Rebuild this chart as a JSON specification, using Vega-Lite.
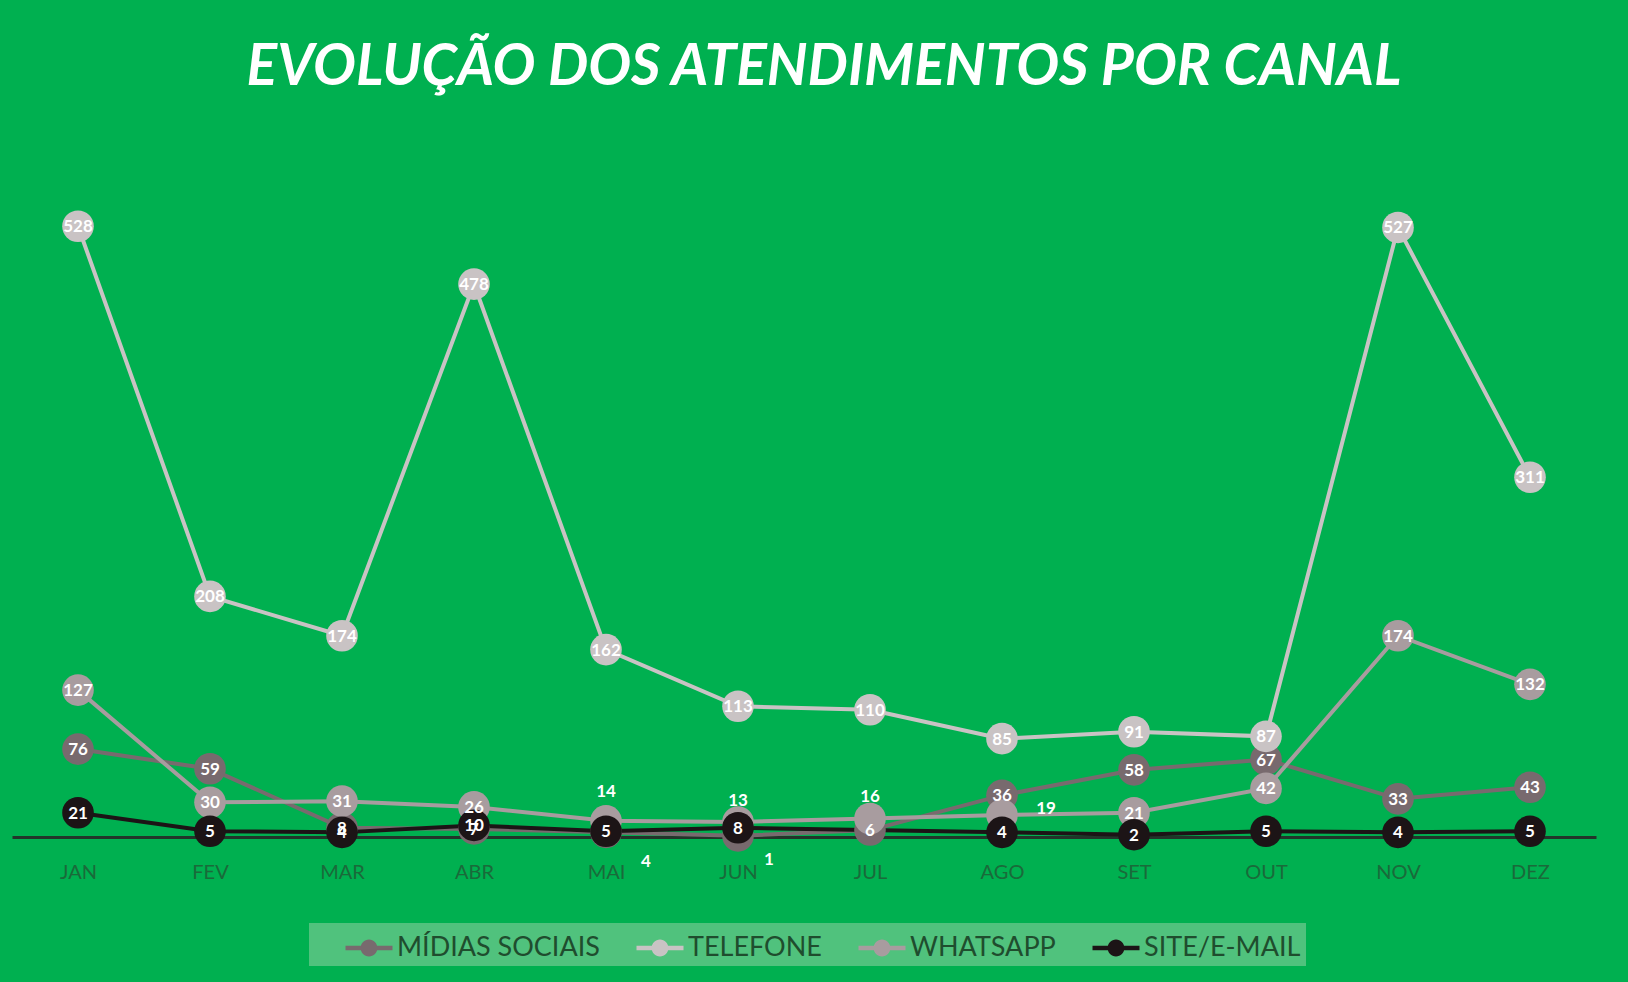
{
  "$schema": "https://vega.github.io/schema/vega-lite/v6.json",
  "width": 1584,
  "height": 694,
  "autosize": "none",
  "padding": {"left": 12, "top": 143, "right": 32, "bottom": 145},
  "background": "#00b050",
  "title": {
    "text": "EVOLUÇÃO DOS ATENDIMENTOS POR CANAL",
    "font": "Lato",
    "fontSize": 57,
    "fontWeight": "bold",
    "fontStyle": "italic",
    "color": "#ffffff",
    "anchor": "middle",
    "frame": "group",
    "offset": 46,
    "dx": 20
  },
  "config": {
    "view": {"stroke": null},
    "font": "Lato"
  },
  "data": {
    "values": [
      {"mes": "JAN", "canal": "MÍDIAS SOCIAIS", "valor": 76},
      {"mes": "FEV", "canal": "MÍDIAS SOCIAIS", "valor": 59},
      {"mes": "MAR", "canal": "MÍDIAS SOCIAIS", "valor": 8},
      {"mes": "ABR", "canal": "MÍDIAS SOCIAIS", "valor": 7},
      {"mes": "MAI", "canal": "MÍDIAS SOCIAIS", "valor": 4},
      {"mes": "JUN", "canal": "MÍDIAS SOCIAIS", "valor": 1},
      {"mes": "JUL", "canal": "MÍDIAS SOCIAIS", "valor": 6},
      {"mes": "AGO", "canal": "MÍDIAS SOCIAIS", "valor": 36},
      {"mes": "SET", "canal": "MÍDIAS SOCIAIS", "valor": 58},
      {"mes": "OUT", "canal": "MÍDIAS SOCIAIS", "valor": 67},
      {"mes": "NOV", "canal": "MÍDIAS SOCIAIS", "valor": 33},
      {"mes": "DEZ", "canal": "MÍDIAS SOCIAIS", "valor": 43},
      {"mes": "JAN", "canal": "TELEFONE", "valor": 528},
      {"mes": "FEV", "canal": "TELEFONE", "valor": 208},
      {"mes": "MAR", "canal": "TELEFONE", "valor": 174},
      {"mes": "ABR", "canal": "TELEFONE", "valor": 478},
      {"mes": "MAI", "canal": "TELEFONE", "valor": 162},
      {"mes": "JUN", "canal": "TELEFONE", "valor": 113},
      {"mes": "JUL", "canal": "TELEFONE", "valor": 110},
      {"mes": "AGO", "canal": "TELEFONE", "valor": 85},
      {"mes": "SET", "canal": "TELEFONE", "valor": 91},
      {"mes": "OUT", "canal": "TELEFONE", "valor": 87},
      {"mes": "NOV", "canal": "TELEFONE", "valor": 527},
      {"mes": "DEZ", "canal": "TELEFONE", "valor": 311},
      {"mes": "JAN", "canal": "WHATSAPP", "valor": 127},
      {"mes": "FEV", "canal": "WHATSAPP", "valor": 30},
      {"mes": "MAR", "canal": "WHATSAPP", "valor": 31},
      {"mes": "ABR", "canal": "WHATSAPP", "valor": 26},
      {"mes": "MAI", "canal": "WHATSAPP", "valor": 14},
      {"mes": "JUN", "canal": "WHATSAPP", "valor": 13},
      {"mes": "JUL", "canal": "WHATSAPP", "valor": 16},
      {"mes": "AGO", "canal": "WHATSAPP", "valor": 19},
      {"mes": "SET", "canal": "WHATSAPP", "valor": 21},
      {"mes": "OUT", "canal": "WHATSAPP", "valor": 42},
      {"mes": "NOV", "canal": "WHATSAPP", "valor": 174},
      {"mes": "DEZ", "canal": "WHATSAPP", "valor": 132},
      {"mes": "JAN", "canal": "SITE/E-MAIL", "valor": 21},
      {"mes": "FEV", "canal": "SITE/E-MAIL", "valor": 5},
      {"mes": "MAR", "canal": "SITE/E-MAIL", "valor": 4},
      {"mes": "ABR", "canal": "SITE/E-MAIL", "valor": 10},
      {"mes": "MAI", "canal": "SITE/E-MAIL", "valor": 5},
      {"mes": "JUN", "canal": "SITE/E-MAIL", "valor": 8},
      {"mes": "AGO", "canal": "SITE/E-MAIL", "valor": 4},
      {"mes": "SET", "canal": "SITE/E-MAIL", "valor": 2},
      {"mes": "OUT", "canal": "SITE/E-MAIL", "valor": 5},
      {"mes": "NOV", "canal": "SITE/E-MAIL", "valor": 4},
      {"mes": "DEZ", "canal": "SITE/E-MAIL", "valor": 5}
    ]
  },
  "encoding": {
    "x": {
      "field": "mes",
      "type": "ordinal",
      "sort": ["JAN", "FEV", "MAR", "ABR", "MAI", "JUN", "JUL", "AGO", "SET", "OUT", "NOV", "DEZ"],
      "scale": {"type": "point", "padding": 0.5},
      "axis": {
        "title": null,
        "labelAngle": 0,
        "labelFont": "Lato",
        "labelFontSize": 20,
        "labelColor": "#1a6a3a",
        "labelPadding": 25,
        "ticks": false,
        "domainColor": "#22352a",
        "domainWidth": 3,
        "grid": false
      }
    },
    "y": {
      "field": "valor",
      "type": "quantitative",
      "scale": {"domain": [0, 600], "nice": false, "zero": true},
      "axis": null
    }
  },
  "layer": [
    {
      "mark": {"type": "line", "strokeWidth": 4},
      "encoding": {
        "color": {
          "field": "canal",
          "type": "nominal",
          "scale": {
            "domain": ["MÍDIAS SOCIAIS", "TELEFONE", "WHATSAPP", "SITE/E-MAIL"],
            "range": ["#786a6e", "#c9c3c4", "#a89c9f", "#1c1416"]
          },
          "legend": {
            "title": " ",
            "titleOrient": "left",
            "titlePadding": 35,
            "orient": "none",
            "direction": "horizontal",
            "legendX": 297,
            "legendY": 780,
            "fillColor": "#50c27d",
            "padding": 5,
            "labelFont": "Lato",
            "labelFontSize": 27,
            "labelColor": "#1f4d2e",
            "labelLimit": 0,
            "labelOffset": 8,
            "columnPadding": 36,
            "symbolType": "M-1.175,-0.11H1.175V0.11H-1.175Z M0.42,0A0.42,0.42 0 1 1 -0.42,0A0.42,0.42 0 1 1 0.42,0Z",
            "symbolSize": 1600,
            "symbolStrokeWidth": 0,
            "symbolOpacity": 1
          }
        }
      }
    },
    {
      "mark": {"type": "point", "filled": true, "opacity": 1, "size": 1000},
      "encoding": {
        "color": {"field": "canal", "type": "nominal"}
      }
    },
    {
      "transform": [
        {"filter": "!((datum.canal === 'WHATSAPP' && (datum.mes === 'MAI' || datum.mes === 'JUN' || datum.mes === 'JUL' || datum.mes === 'AGO')) || (datum.canal === 'MÍDIAS SOCIAIS' && (datum.mes === 'MAI' || datum.mes === 'JUN')))"}
      ],
      "mark": {"type": "text", "color": "#ffffff", "fontWeight": "bold", "fontSize": 17, "font": "Lato", "dy": 1},
      "encoding": {"text": {"field": "valor", "type": "quantitative"}}
    },
    {
      "transform": [{"filter": "datum.canal === 'WHATSAPP' && datum.mes === 'MAI'"}],
      "mark": {"type": "text", "color": "#ffffff", "fontWeight": "bold", "fontSize": 17, "font": "Lato", "dy": -29},
      "encoding": {"text": {"field": "valor", "type": "quantitative"}}
    },
    {
      "transform": [{"filter": "datum.canal === 'WHATSAPP' && (datum.mes === 'JUN' || datum.mes === 'JUL')"}],
      "mark": {"type": "text", "color": "#ffffff", "fontWeight": "bold", "fontSize": 17, "font": "Lato", "dy": -21},
      "encoding": {"text": {"field": "valor", "type": "quantitative"}}
    },
    {
      "transform": [{"filter": "datum.canal === 'WHATSAPP' && datum.mes === 'AGO'"}],
      "mark": {"type": "text", "color": "#ffffff", "fontWeight": "bold", "fontSize": 17, "font": "Lato", "dx": 44, "dy": -6},
      "encoding": {"text": {"field": "valor", "type": "quantitative"}}
    },
    {
      "transform": [{"filter": "datum.canal === 'MÍDIAS SOCIAIS' && datum.mes === 'MAI'"}],
      "mark": {"type": "text", "color": "#ffffff", "fontWeight": "bold", "fontSize": 17, "font": "Lato", "dx": 40, "dy": 30},
      "encoding": {"text": {"field": "valor", "type": "quantitative"}}
    },
    {
      "transform": [{"filter": "datum.canal === 'MÍDIAS SOCIAIS' && datum.mes === 'JUN'"}],
      "mark": {"type": "text", "color": "#ffffff", "fontWeight": "bold", "fontSize": 17, "font": "Lato", "dx": 31, "dy": 24},
      "encoding": {"text": {"field": "valor", "type": "quantitative"}}
    }
  ]
}
